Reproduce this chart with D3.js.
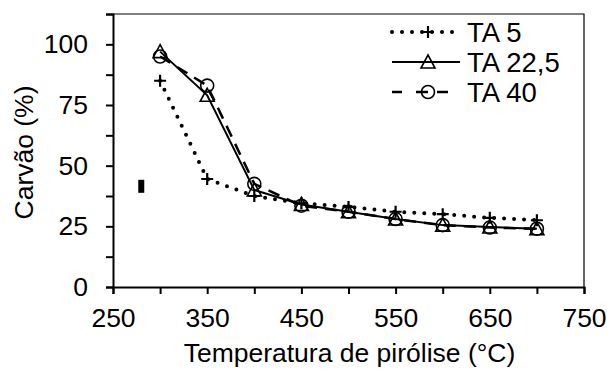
<!DOCTYPE html>
<html>
<head>
<meta charset="utf-8">
<script src="https://cdn.jsdelivr.net/npm/d3@7"></script>
<style>
  body { margin: 0; background: #fff; }
  text { font-family: "Liberation Sans", Arial, sans-serif; fill: #000; }
</style>
</head>
<body>
<div id="chart"></div>
<script>
// Data
var temps       =   [ 300, 350, 400, 450, 500, 550, 600, 650, 700 ];
var ta5         =   [ 85, 44.5, 37.5, 34.5, 33, 31, 30, 28.5, 27.5 ];
var ta225       =   [ 97, 79, 40, 34, 31, 28, 25.5, 24.7, 24 ];
var ta40        =   [ 95, 83, 42.5, 33.5, 31, 28, 25.5, 24.5, 24 ];
var seriesNames =   [ "TA 5", "TA 22,5", "TA 40" ];
var xTicks      =   [ 250, 300, 350, 400, 450, 500, 550, 600, 650, 700, 750 ];
var yTicks      =   [ 0, 12.5, 25, 37.5, 50, 62.5, 75, 87.5, 100, 112.5 ];
var stray       =   [ { x: 280, y: 41.5 } ];   // small black mark left of the curves

var chart_width     =   607;
var chart_height    =   369;
var margin          =   { top: 14, right: 23, bottom: 82, left: 113 };
var fontSize        =   26.5;

var x = d3.scaleLinear()
    .domain( [ 250, 750 ] )
    .range( [ margin.left, chart_width - margin.right ] );

var y = d3.scaleLinear()
    .domain( [ 0, 112.5 ] )
    .range( [ chart_height - margin.bottom, margin.top ] );

var svg = d3.select( "#chart" )
    .append( "svg" )
    .attr( "width", chart_width )
    .attr( "height", chart_height );

// Frame (top and right)
svg.append( "path" )
    .attr( "d", "M" + x(250) + "," + y(112.5) + "H" + x(750) + "V" + y(0) )
    .attr( "fill", "none" )
    .attr( "stroke", "#000" )
    .attr( "stroke-width", 1.2 );

// X axis
var xAxis = d3.axisBottom( x )
    .tickValues( xTicks )
    .tickSize( 7 )
    .tickPadding( 14 )
    .tickFormat( d => ( (d - 250) % 100 === 0 ) ? d : "" );

var gx = svg.append( "g" )
    .attr( "transform", "translate(0," + y(0) + ")" )
    .call( xAxis );

// Y axis
var yAxis = d3.axisLeft( y )
    .tickValues( yTicks )
    .tickSize( 7 )
    .tickPadding( 18 )
    .tickFormat( d => ( d % 25 === 0 ) ? d : "" );

var gy = svg.append( "g" )
    .attr( "transform", "translate(" + x(250) + ",0)" )
    .call( yAxis );

[ gx, gy ].forEach( function(g){
    g.select( ".domain" ).attr( "stroke-width", 2 );
    g.selectAll( ".tick line" ).attr( "stroke-width", 2 );
    g.selectAll( "text" )
        .style( "font-size", fontSize + "px" )
        .style( "font-family", "'Liberation Sans', Arial, sans-serif" )
        .attr( "fill", "#000" );
});

// Axis titles
svg.append( "text" )
    .attr( "x", 349.5 )
    .attr( "y", 362 )
    .attr( "text-anchor", "middle" )
    .style( "font-size", fontSize + "px" )
    .text( "Temperatura de pirólise (°C)" );

svg.append( "text" )
    .attr( "transform", "translate(33," + ( (y(0) + y(112.5)) / 2 + 2 ) + ") rotate(-90)" )
    .attr( "text-anchor", "middle" )
    .style( "font-size", fontSize + "px" )
    .text( "Carvão (%)" );

// Series
var series = [
    { name: seriesNames[0], values: ta5,   dash: "0,10",  width: 4,   cap: "round", marker: "plus",
      legendDash: "0,10", legendEnd: 461 },
    { name: seriesNames[1], values: ta225, dash: null,    width: 2,   cap: "butt",  marker: "triangle",
      legendDash: null, legendEnd: 460 },
    { name: seriesNames[2], values: ta40,  dash: "12,8",  width: 2.5, cap: "butt",  marker: "circle",
      legendDash: "10,14,12,9,11", legendEnd: 448 }
];

var line = d3.line()
    .x( (d, i) => x( temps[i] ) )
    .y( d => y(d) );

function drawMarker( g, type, cx, cy ){
    if( type === "plus" ){
        g.append( "path" )
            .attr( "d", "M" + (cx - 6) + "," + cy + "H" + (cx + 6) + "M" + cx + "," + (cy - 6) + "V" + (cy + 6) )
            .attr( "stroke", "#000" )
            .attr( "stroke-width", 2.2 )
            .attr( "fill", "none" );
    } else if( type === "triangle" ){
        g.append( "path" )
            .attr( "d", "M" + cx + "," + (cy - 7) + "L" + (cx + 7) + "," + (cy + 6) + "L" + (cx - 7) + "," + (cy + 6) + "Z" )
            .attr( "stroke", "#000" )
            .attr( "stroke-width", 1.6 )
            .attr( "fill", "none" );
    } else {
        g.append( "circle" )
            .attr( "cx", cx )
            .attr( "cy", cy )
            .attr( "r", 6.5 )
            .attr( "stroke", "#000" )
            .attr( "stroke-width", 1.6 )
            .attr( "fill", "none" );
    }
}

series.forEach( function(s){
    var g = svg.append( "g" );
    g.append( "path" )
        .datum( s.values )
        .attr( "d", line )
        .attr( "fill", "none" )
        .attr( "stroke", "#000" )
        .attr( "stroke-width", s.width )
        .attr( "stroke-linecap", s.cap )
        .attr( "stroke-dasharray", s.dash );
    s.values.forEach( function(v, i){
        drawMarker( g, s.marker, x( temps[i] ), y(v) );
    });
});

// Stray mark
svg.selectAll( "rect.stray" )
    .data( stray )
    .enter()
    .append( "rect" )
    .attr( "class", "stray" )
    .attr( "x", d => x(d.x) - 3 )
    .attr( "y", d => y(d.y) - 6.5 )
    .attr( "width", 6 )
    .attr( "height", 13 )
    .attr( "fill", "#000" );

// Legend
var legendRows = [ 32, 62, 92 ];
var legend = svg.append( "g" );
series.forEach( function(s, i){
    var ly = legendRows[i];
    var lg = legend.append( "g" );
    lg.append( "line" )
        .attr( "x1", 392 ).attr( "x2", s.legendEnd )
        .attr( "y1", ly ).attr( "y2", ly )
        .attr( "stroke", "#000" )
        .attr( "stroke-width", s.width )
        .attr( "stroke-linecap", s.cap )
        .attr( "stroke-dasharray", s.legendDash );
    drawMarker( lg, s.marker, 428, ly );
    lg.append( "text" )
        .attr( "x", 467 )
        .attr( "y", ly )
        .attr( "dy", "0.36em" )
        .style( "font-size", "27.5px" )
        .text( s.name );
});
</script>
</body>
</html>
